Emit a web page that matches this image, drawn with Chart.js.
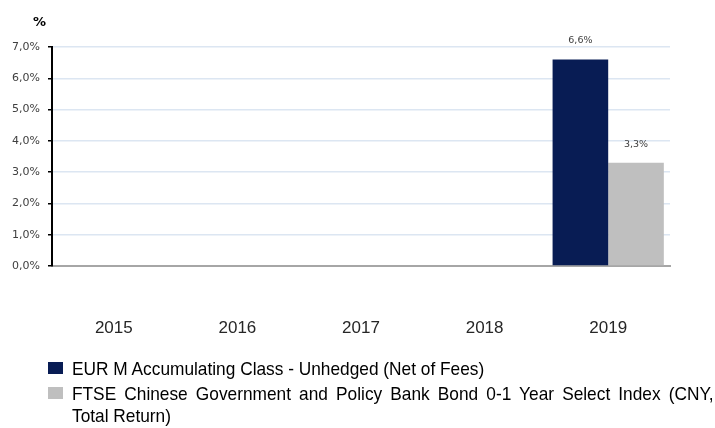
<!DOCTYPE html>
<html>
<head>
<meta charset="utf-8">
<script src="https://cdn.jsdelivr.net/npm/chart.js@4/dist/chart.umd.min.js"></script>
<style>
  html, body { margin: 0; padding: 0; background: #fff; }
  #wrap { position: relative; width: 715px; height: 428px; overflow: hidden; }
  #c { position: absolute; left: 0; top: 0; }
  #unit { position: absolute; left: 33px; top: 14px; font: bold 13px "DejaVu Sans", sans-serif; color: #000; }
  .box { position: absolute; left: 48px; width: 15px; height: 12px; }
  .lt { position: absolute; left: 72px; font-family: "Liberation Sans", Arial, sans-serif; font-size: 19px; line-height: 22px; color: #000; white-space: nowrap; transform: scaleX(0.91); transform-origin: 0 0; }
  .lt.just { width: 705px; white-space: normal; text-align: justify; text-align-last: justify; }
</style>
</head>
<body>
<div id="wrap">
  <canvas id="c" width="715" height="428" style="width:715px;height:428px"></canvas>
  <div id="unit">%</div>
  <div class="box" id="b1" style="top:362px"></div>
  <div class="box" id="b2" style="top:387px"></div>
  <div class="lt" id="l1" style="top:358px"></div>
  <div class="lt just" id="l2" style="top:383px"></div>
  <div class="lt" id="l3" style="top:405px"></div>
</div>
<script>
const categories = ["2015", "2016", "2017", "2018", "2019"];
const seriesNames = [
  "EUR M Accumulating Class - Unhedged (Net of Fees)",
  "FTSE Chinese Government and Policy Bank Bond 0-1 Year Select Index (CNY, Total Return)"
];
const fundValues = [null, null, null, null, 6.6];
const indexValues = [null, null, null, null, 3.3];
const yTicks = [0, 1, 2, 3, 4, 5, 6, 7];
const seriesColors = ["#081c54", "#bfbfbf"];

// HTML legend (series 2 wraps after "(CNY,")
document.getElementById('b1').style.background = seriesColors[0];
document.getElementById('b2').style.background = seriesColors[1];
document.getElementById('l1').textContent = seriesNames[0];
const cut = seriesNames[1].indexOf('(CNY,') + 5;
document.getElementById('l2').textContent = seriesNames[1].slice(0, cut);
document.getElementById('l3').textContent = seriesNames[1].slice(cut).trim();

const fmt = v => v.toFixed(1).replace('.', ',') + '%';

const valueLabels = {
  id: 'valueLabels',
  afterDatasetsDraw(chart) {
    const ctx = chart.ctx;
    ctx.save();
    ctx.font = '9.5px "DejaVu Sans", sans-serif';
    ctx.fillStyle = '#404040';
    ctx.textAlign = 'center';
    ctx.textBaseline = 'middle';
    chart.data.datasets.forEach((ds, i) => {
      const meta = chart.getDatasetMeta(i);
      meta.data.forEach((el, j) => {
        const v = ds.data[j];
        if (v === null || v === undefined) return;
        ctx.fillText(fmt(v), el.x, el.y - 18.5);
      });
    });
    ctx.restore();
  }
};

new Chart(document.getElementById('c'), {
  type: 'bar',
  data: {
    labels: categories,
    datasets: [
      { label: seriesNames[0], data: fundValues, backgroundColor: seriesColors[0] },
      { label: seriesNames[1], data: indexValues, backgroundColor: seriesColors[1] }
    ]
  },
  options: {
    responsive: false,
    animation: false,
    layout: { padding: { left: 0, right: 45, top: 47, bottom: 0 } },
    datasets: { bar: { categoryPercentage: 0.9, barPercentage: 1.0 } },
    plugins: { legend: { display: false }, tooltip: { enabled: false } },
    scales: {
      x: {
        grid: { display: false },
        border: { color: '#a6a6a6', width: 2 },
        ticks: {
          padding: 44,
          color: '#262626',
          font: { family: '"Liberation Sans", Arial, sans-serif', size: 17 }
        },
        afterFit(scale) { scale.height = 428 - 266; }
      },
      y: {
        min: 0, max: 7,
        afterBuildTicks(scale) { scale.ticks = yTicks.map(v => ({ value: v })); },
        grid: { color: '#dce6f2', lineWidth: 1.5, tickColor: '#000', tickLength: 4, drawTicks: true },
        border: { color: '#000', width: 2 },
        ticks: {
          padding: 8,
          color: '#404040',
          font: { family: '"DejaVu Sans", sans-serif', size: 11 },
          callback: v => fmt(v)
        },
        afterFit(scale) { scale.width = 52; }
      }
    }
  },
  plugins: [valueLabels]
});
</script>
</body>
</html>
